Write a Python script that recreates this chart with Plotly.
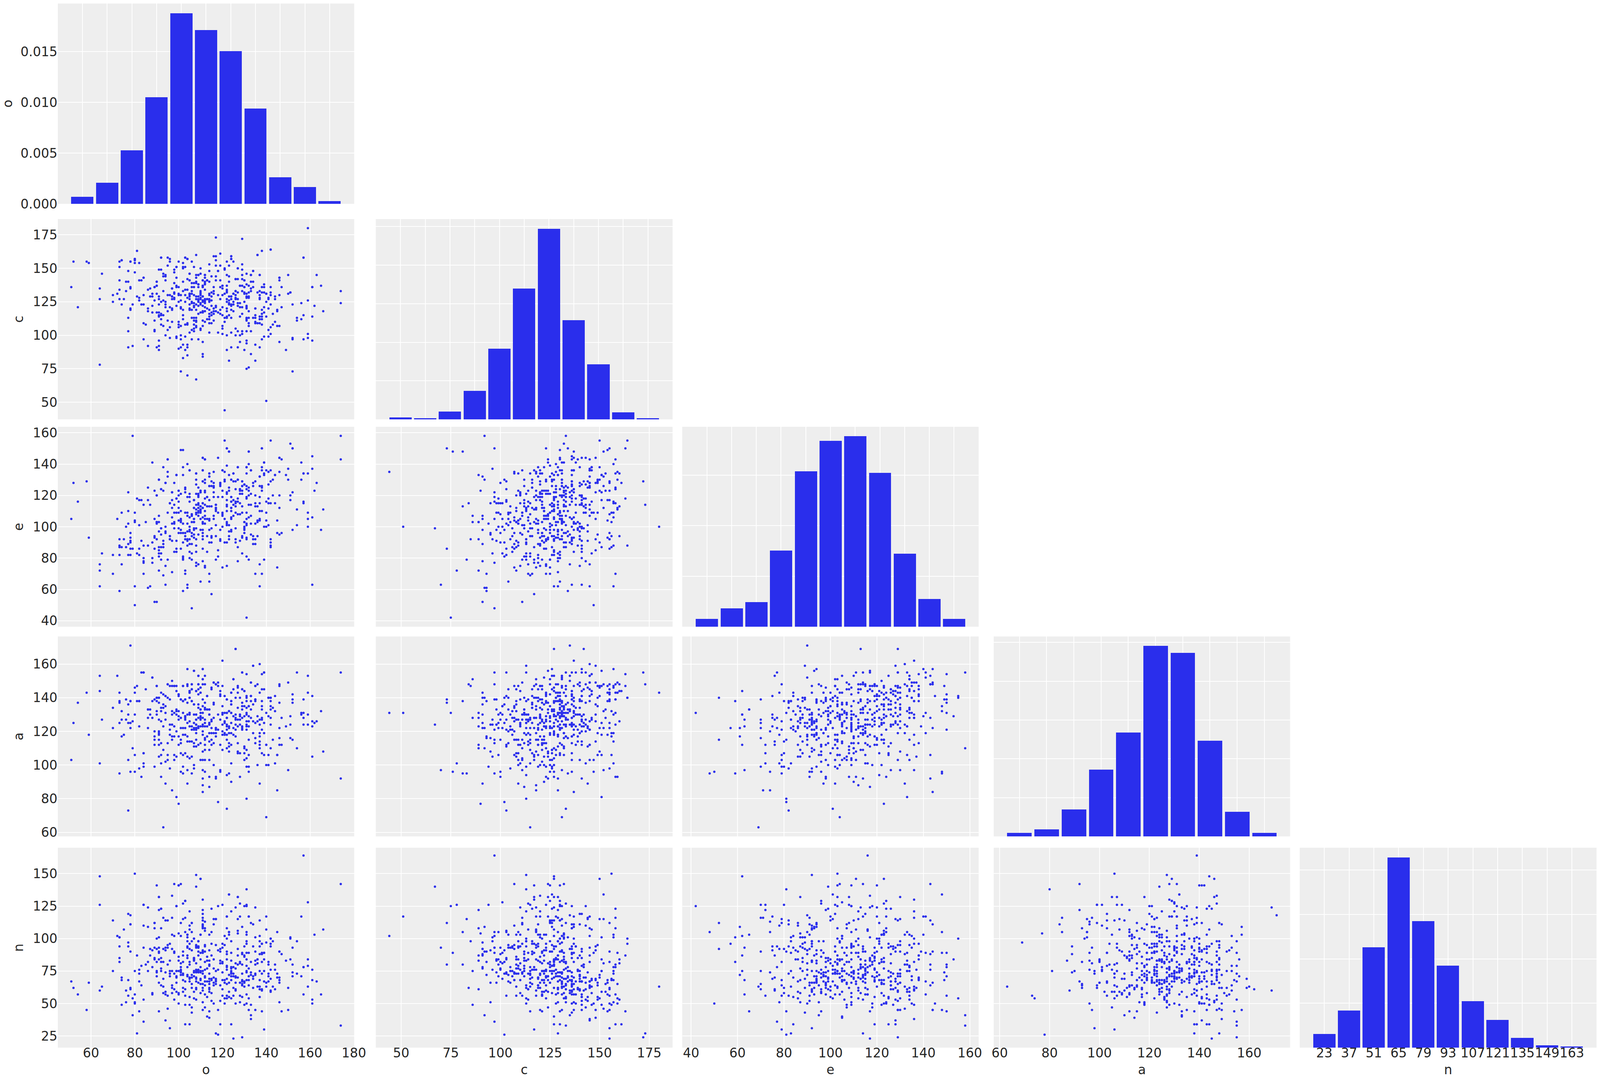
import plotly.graph_objects as go

VARS = ["o", "c", "e", "a", "n"]

o_levels = [51,52,54,58,59,64,65,70,72,73,74,75,76,77,78,79,80,81,82,83,84,85,86,87,88,89,90,91,92,93,94,95,96,97,98,99,
            100,101,102,103,104,105,106,107,108,109,110,111,112,113,114,115,116,117,118,119,120,121,122,123,124,125,126,127,128,129,
            130,131,132,133,134,135,136,137,138,139,140,141,142,143,144,145,146,147,149,150,151,152,154,156,157,159,161,162,163,165,166,174]

c_groups = [[136],[155],[121],[155],[154],[135,127,78],[146],[130,125],[131],[155,151,141,134,127],[156,123],[127],[140,133],
 [148,140,113,103,91],[155,136,135,120,119],[123,92],[157,156,154,147],[163,129],[154,141,128,126],[141,123],[143,130,123,109,97],[108],
 [134,120,118,92],[135,129],[131,129,122,117],[136,126,111,104,103],[140,137,131,117,91],[149,129,127,123,117,115,114,96,92,89],
 [158,149,125,116,115,112,108],[146,144,133,126,115,107],[145,144,141,125,123,121,100],[158,152,130,118,111,104],[157,155,130,121,106,98],
 [135,129,127,120,119,110],[149,147,139,132,131,128,127],[151,143,137,136,122,99,98],[155,136,131,130,125,110,108,106,90],
 [130,126,121,120,107,100,97,91,73],[154,151,150,140,133,119,115,112,93,83],[158,151,134,130,125,108,99,89],
 [157,142,134,128,109,108,93,91,85,70],[146,141,131,130,129,127,123,120,119,102],[155,139,136,133,131,125,124,119,113,104,97],
 [151,139,136,130,124,122,121,113,111,108,105,103],[160,145,143,140,139,129,127,123,119,113,111,110,107,106,67],
 [145,138,136,129,127,126,125,122,116,97],[150,146,133,132,131,130,128,127,124,123,117,105,104],
 [141,137,136,129,126,125,122,118,117,111,107,95,86,84],[145,143,140,139,138,134,127,126,125,124,121,118,110],[141,127,120,112],
 [153,148,140,131,130,127,126,125,119,116,114,112,109,102],[144,132,129,126,122,117,115,109],[159,136,133,131,120,118,116,111],
 [173,159,156,152,144,141,122,121,118],[148,130,117,102],[161,152,141,136,127,119,116],[137,135,130,121,115,107,105,101],
 [150,149,131,113,110,44],[155,145,137,134,133,132,127,125,120,118,114,113,100,89],[152,144,140,129,126,124,123,115,81],
 [159,157,129,127,123,122,119,113,102,91],[155,131,125,123,118],[142,133,130,128,127,105,100],[150,142,132,127,124,122,103,91],
 [137,124,121,114,100,95],[172,153,149,145,142,137,133,121,116,103,101],[141,136,132,131,125,89],
 [146,138,131,129,128,122,121,120,113,112,111,103,96,94,75],[137,132,129,128,118,113,109,107,76],[145,140,135,133,103,86],[148,140,136,113],
 [120,115,113,110,109,93,81],[160,132,109],[145,133,130,128,127,114,112,109,91],[163,136,132,119,116,114,112,108,97],[138,136,132,121,117,99],
 [131,125,114,51],[128,127,120,104,99],[164,136,132,130,123,106,101],[116,108],[129,127,110],[119,118,107],[143,141,130,107,95],[136,121],
 [89],[145,131],[132],[123,98,97,73],[113,111],[124,112],[158,115,97],[180,126,101,98],[136,114,96],[122],[145],[137],[118],[133,124]]

e_groups = [[105],[128],[116],[129],[93],[76,72,62],[83],[82,70],[105],[92,88,87,82,59],[109,87,76],[92],[100,87],[122,110,102,89,82],
 [96,93,91,86,82],[158,86],[109,104,103,62,50],[118,83],[117,101,86,82],[117,91],[114,88,80,78,77,70],[103],[125,117,88,61],[114,62],
 [141,90,80,77],[123,105,94,93,86,52],[120,103,102,92,52],[130,107,103,97,87,85,83,81,72],[124,99,95,87,83,79],[138,123,91,89,87,69],
 [128,100,97,96,75,63],[143,135,132,109,79],[115,94,92],[122,117,112,106,102,91,71],[128,114,109,103,102,99,84],[133,118,109,91,86,84],
 [123,120,116,112,109,104,99,96],[149,121,110,105,104,103,98,96,86],[149,138,133,102,96,90,81,80,79,59],[125,124,122,109,96,94,92,72,70],
 [140,119,109,107,102,97,92,91,88,63,61],[136,121,119,116,106,100,98,97,92,89,84,80],[108,107,103,96,94,89,83,79,48],
 [117,112,105,103,99,98,95,93],[134,130,127,121,114,111,109,108,99,92,88,84,77,75],[125,121,120,119,115,114,112,110,109,107,95,76],
 [123,122,113,111,110,109,105,98,65],[144,136,129,115,112,106,103,102,98,96,94,92,86,78],[143,130,128,123,122,118,114,110,107,105,102,75,74],
 [119,113,105,94,84],[134,132,126,117,113,105,104,98,90,70,65],[129,126,113,99,94,93,90,57],[135,128,126,125,122,119,107,105],
 [114,112,111,110,101,94,79],[144,119,109,85,81],[128,127,126,98,92,91],[136,123,119,109,108,107,100,74],[155,135,130,129,105,90],
 [150,139,122,121,117,114,113,110,103,102,101,90,75],[148,133,125,123,101,97,94,92],[130,119,116,112,110,106,105,98,97],[134,129,117,114,107],
 [129,124,116,115,113,109,99,92,90],[138,130,118,116,108,87,78],[124,123,121,115,108,91],[129,126,123,121,113,109,94,93,83],[127,103,100,99,98,96],
 [138,134,126,124,119,118,109,105,102,101,93,92,81,42],[148,140,125,123,120,114,106,79],[136,121,114,107,102,95],[128,126,94,92,89],
 [129,120,115,113,102,92,89,70],[113,104,103,94],[132,126,119,115,110,105,104,76,62],[150,138,136,126,125,123,110,70],[141,134,133,100,79],
 [136,116,109,104,100],[135,127,118,115,101],[155,136,129,115,92,90,88,87],[130,120],[133,115],[104,96,74],[144,135,120,112,95],[143,96],
 [133],[137,130],[153,120,117],[150,122,98],[111,101],[141,130],[134,116,115],[134,109,105,100],[145,137,106,63],[123],[128],[98],[111],[158,143]]

a_groups = [[103],[125],[137],[143],[118],[153,144,101],[127],[134,122],[153],[143,138,137,125,95],[132,127,117],[118],[139,127],
 [136,130,125,103,73],[171,138,125,122,96],[126,110],[146,143,130,106,96],[147,138],[138,123,98],[155,93],[155,107,101,99],[145],[133,128,122],
 [133,130],[152,138,128],[139,120,117,115,112,99],[147,140,138,132,130],[140,137,127,120,119,118,115,112,105],[143,134,132,126,113,106,101,93],
 [142,136,134,123,109,63],[141,135,131,127,102,89],[148,140,113,106,103],[147,139,124,121,118,98],[150,147,132,130,124,117,115,85],
 [147,131,123,117,106,103],[147,144,133,132,130,120,105,81],[142,141,132,129,127,117,112,77],[139,128,122,115,113,107,96],
 [147,138,131,122,118,106,99,95],[139,129,128,127,122,118,107],[157,148,147,137,130,125,117,114,105,97,89],[144,143,140,131,130,126,123,114,104],
 [148,145,138,123,121,114,105,95],[156,136,130,125,122,121,113,111,100,98],[144,130,127,124,122,121,119,115,111],
 [153,148,145,142,136,134,128,123,122,112],[146,143,133,131,129,128,127,123,113,103],[157,151,148,139,135,131,128,124,123,120,118,108,103,97,92,88,84],
 [153,148,137,134,133,127,125,123,116,115,112,109,103,96],[141,133,123,117],[133,130,125,124,119,114,109,103,93,87],[146,145,127,126,122,119,115,112],
 [149,137,136,128,119,113,100],[148,122,121,119,117,93,92],[149,147,130,121,78],[144,142,141,127,112,97,96],[162,147,135,131,130,124,120,118,109],
 [141,131,126,125,119,118],[139,131,128,124,123,121,118,115,110,94,74],[132,123,122,119,113,111,108,95],[143,138,136,131,125,119,112,101,90],
 [151,129,122,118],[169,140,130,128,127,124,121,117],[147,146,143,134,127,123,113,108,107],[140,130,129,127,124,107,93],[155,145,137,135,133,128,123,122,121],
 [144,135,129,111,110,107,103],[154,141,140,138,134,130,126,124,123,121,109,104,99,80],[135,129,126,123,115,106,99,96],[149,141,138,133,128],
 [159,136,126,119],[147,139,138,125,116,113],[148,129,126,100],[160,143,127,124,119,117,114,112,110,89],[154,145,138,135,133,128,127,121,107],
 [155,145,125,119,106],[131,112,100,69],[140,129,106,100],[140,138,135,133,128,124,110],[134,115],[141,132,101],[106,85],[148,147,137,122,116,112],[128,112],
 [123],[149,97],[129,124,116],[142,139,137,115],[155,110],[131,130],[131,128,124],[153,143,130,124],[141,126,123,105],[125],[126],[132],[108],[155,92]]

n_groups = [[67],[62],[57],[45],[66],[148,126,60],[63],[114,75],[102],[101,94,85,82],[70,68,49],[107],[60,51],[119,97,94,68,56],[118,111,90,62,61],[54,41],
 [150,75,57,51,50],[87,27],[76,73,67,44],[79,64],[126,110,93,53,36],[80],[124,109,82,75],[92,87],[91,78,58,57],[112,108,93,85,84],[141,100,92,82,75,74,71],
 [132,122,101,93,90,89,84,66,44],[123,108,85,82,77,75,64],[116,92,82,69,63,58],[114,93,91,74,59,57,37],[114,95,93,80,56,46],[96,83,75,73,71,31],
 [133,116,103,92,75,64,62,58],[142,102,90,89,73,61,53],[125,75,71,70,66,59],[141,104,86,83,75,58,57,50],[142,112,102,81,78,76,75,74,72],
 [127,115,90,87,82,73,72,68,62,59],[129,116,105,67,61,56,49,34],[103,101,98,94,93,87,85,78,72,71],[121,110,107,96,92,82,80,70,69,67,55,49,34],
 [112,105,98,91,72,70,65,62,47,43],[100,85,84,83,75,74,71,59,54],[149,140,95,94,93,81,76,75,74,70,69,67,62,61,53],[98,94,93,90,87,76,75,74,66],
 [146,103,89,84,78,75,74,69,68,65,58],[130,122,119,116,114,111,110,109,108,91,90,89,75,73,65,62,60,51,45],[113,108,106,95,94,90,82,76,71,70,67,64,57,47],
 [86,83,77,67,55,40],[103,91,83,80,79,73,69,67,65,62,61,59,44,39],[123,105,96,87,69,68,58,52],[115,111,84,77,70,66,64,50],[115,95,75,69,68,67,65,27],
 [125,91,76,45,26],[92,90,83,81,64,52,34],[126,96,93,82,81,74,68,61,56],[102,95,68,66,54,50],[117,108,100,90,88,84,79,78,76,69,65,56,54],
 [134,105,103,72,66,59,55],[121,98,89,83,78,77,75,74,73,71,68,54,34],[78,73,71,62,56,23],[124,81,77,71,70,66,61,60,50],[132,115,106,104,92,87,80,70],
 [127,117,82,81,66,56,51],[109,89,88,80,73,68,67,65,64,55,24],[125,94,87,86,67,66,63,49],[138,126,125,105,103,98,96,89,84,79,75,74,68,57,50],
 [117,89,77,71,68,64,54,45],[112,82,74,72,49,41,38],[111,94,71,69,62],[124,101,90,83,80,73,72,45],[84,81,63],[114,102,98,94,88,75,68,63,61,55],
 [96,89,88,82,73,61,60,44],[89,84,75,67,30],[117,107,97,66,63],[82,80,73,71,67],[100,96,94,76,69,60,59],[98,63],[80,76,61],[105,73,70],[90,70,68,66,51],[88,44],
 [83],[62,45],[101,100,84],[93,80,74,71],[98,73],[117,71],[164,78,57],[128,84,79,63],[76,68,53,50],[103],[67],[57],[107],[142,33]]

# people whose five values could be traced across panels: o, c, e, a, n
traced_o = [121,140,159,131,78,93,157,79,174,125]
traced_c = [44,51,180,75,135,115,97,92,133,155]
traced_e = [135,100,100,42,90,69,116,158,158,117]
traced_a = [131,131,143,131,171,63,139,110,155,145]
traced_n = [102,117,63,125,118,63,164,41,33,23]

# histogram bins (tick positions) and bar heights
hist_bins = {
    "o": [51,63,75,87,99,111,123,135,147,159,171],
    "c": [44,57,70,83,96,109,122,135,148,161,174],
    "e": [42,53,64,75,86,97,108,119,130,141,152],
    "a": [63,75,87,99,111,123,135,147,159,171],
    "n": [23,37,51,65,79,93,107,121,135,149,163],
}
hist_heights = {
    "o": [.00069,.00208,.00528,.01051,.01879,.01714,.01506,.00939,.00262,.00165,.00027],
    "c": [.00026,.00016,.00103,.00369,.00916,.01695,.02469,.01286,.00714,.00092,.00016],
    "e": [.00077,.00181,.00243,.00755,.01538,.01839,.01885,.01522,.00724,.00274,.00077],
    "a": [.00044,.00091,.00347,.00859,.01339,.02457,.02366,.01233,.00316,.00044],
    "n": [.00153,.00417,.01129,.02143,.01423,.00925,.00522,.00311,.0011,.00026,.00012],
}
hist_top = {"o": .01975, "c": .02598, "e": .01978, "a": .02578, "n": .02252}

# shared tick labels
ticks = {
    "o": [60,80,100,120,140,160,180],
    "c": [50,75,100,125,150,175],
    "e": [40,60,80,100,120,140,160],
    "a": [60,80,100,120,140,160],
    "n": [25,50,75,100,125,150],
}
hist_y_ticks = [0, .005, .01, .015, .02, .025]
o_hist_y_ticks = [0, .005, .01, .015]
ranges = {"o": [44.85,180.15], "c": [37.2,186.8], "e": [36.2,163.8], "a": [57.6,176.4], "n": [16,170]}

# panel geometry (pixels of the reference)
W, H = 4151, 2771
col_l = [150, 975, 1770, 2578, 3372]
col_r = [919, 1745, 2539, 3347, 4142]
row_t = [9, 561, 1093, 1630, 2171]
row_b = [522, 1074, 1605, 2142, 2683]

BLUE = "#2a2eec"
INK = "#262626"
FONT = dict(family="DejaVu Sans", size=33, color=INK)


def order(k, weight, step):
    """Order of a group's values so columns mix with the mild trend seen in the panels."""
    score = [weight * j / max(k, 1) + (1 - abs(weight)) * ((j * step) % 1) for j in range(k)]
    return sorted(range(k), key=lambda j: score[j])


# take traced people out of their groups, then join the groups into one row per person
for to, tc, te, ta, tn in zip(traced_o, traced_c, traced_e, traced_a, traced_n):
    i = o_levels.index(to)
    for grp, val in ((c_groups, tc), (e_groups, te), (a_groups, ta), (n_groups, tn)):
        if val in grp[i] and len(grp[i]) > 1:
            grp[i].remove(val)

o, c, e, a, n = list(traced_o), list(traced_c), list(traced_e), list(traced_a), list(traced_n)
for lvl, gc, ge, ga, gn in zip(o_levels, c_groups, e_groups, a_groups, n_groups):
    k = max(len(gc), len(ge), len(ga), len(gn))
    oe, oa, on = order(k, .35, .618034), order(k, .3, .414214), order(k, -.5, .732051)
    for j in range(k):
        o.append(lvl)
        c.append(gc[j % len(gc)])
        e.append(ge[oe[j] % len(ge)])
        a.append(ga[oa[j] % len(ga)])
        n.append(gn[on[j] % len(gn)])
values = {"o": o, "c": c, "e": e, "a": a, "n": n}

fig = go.Figure()
layout = dict(margin=dict(l=0, r=0, t=0, b=0), autosize=True,
              paper_bgcolor="white", plot_bgcolor="#eeeeee", showlegend=False,
              font=FONT, bargap=0)

idx = 0
for r, yv in enumerate(VARS):
    for cl, xv in enumerate(VARS):
        if cl > r:
            continue
        idx += 1
        suffix = "" if idx == 1 else str(idx)
        xname, yname = "x" + suffix, "y" + suffix
        bottom = r == 4
        left = cl == 0
        if cl == r:
            bins = hist_bins[xv]
            w = bins[1] - bins[0]
            fig.add_trace(go.Bar(x=bins, y=hist_heights[xv], width=.9 * w, marker=dict(color=BLUE, line=dict(width=0)),
                                 xaxis=xname, yaxis=yname))
            span = bins[-1] - bins[0] + .9 * w
            xr = [bins[0] - .45 * w - .05 * span, bins[-1] + .45 * w + .05 * span]
            xt = bins
            yr = [0, hist_top[xv]]
            yt = o_hist_y_ticks if xv == "o" else hist_y_ticks
        else:
            fig.add_trace(go.Scatter(x=values[xv], y=values[yv], mode="markers",
                                     marker=dict(color=BLUE, size=6, line=dict(width=0)),
                                     xaxis=xname, yaxis=yname))
            xr, xt = ranges[xv], ticks[xv]
            yr, yt = ranges[yv], ticks[yv]
        common = dict(showgrid=True, gridcolor="white", gridwidth=2, zeroline=False, showline=False,
                      ticks="", tickfont=FONT, tickangle=0, automargin=False)
        layout["xaxis" + suffix] = dict(common, domain=[col_l[cl] / W, col_r[cl] / W], range=xr, tickmode="array", tickvals=xt,
                                        anchor=yname, showticklabels=bottom, ticklabelstandoff=-9,
                                        title=dict(text=xv if bottom else "", font=FONT, standoff=12))
        layout["yaxis" + suffix] = dict(common, domain=[1 - row_b[r] / H, 1 - row_t[r] / H], range=yr, tickmode="array", tickvals=yt,
                                        anchor=xname, showticklabels=left,
                                        tickformat=".3f" if r == 0 else "d",
                                        title=dict(text=yv if left else "", font=FONT, standoff=14))

fig.update_layout(**layout)
fig.write_html("out.html", default_width="100vw", default_height="100vh",
               post_script="document.body.style.margin='0';document.documentElement.style.overflow='hidden';",
               config=dict(displayModeBar=False, responsive=True))
